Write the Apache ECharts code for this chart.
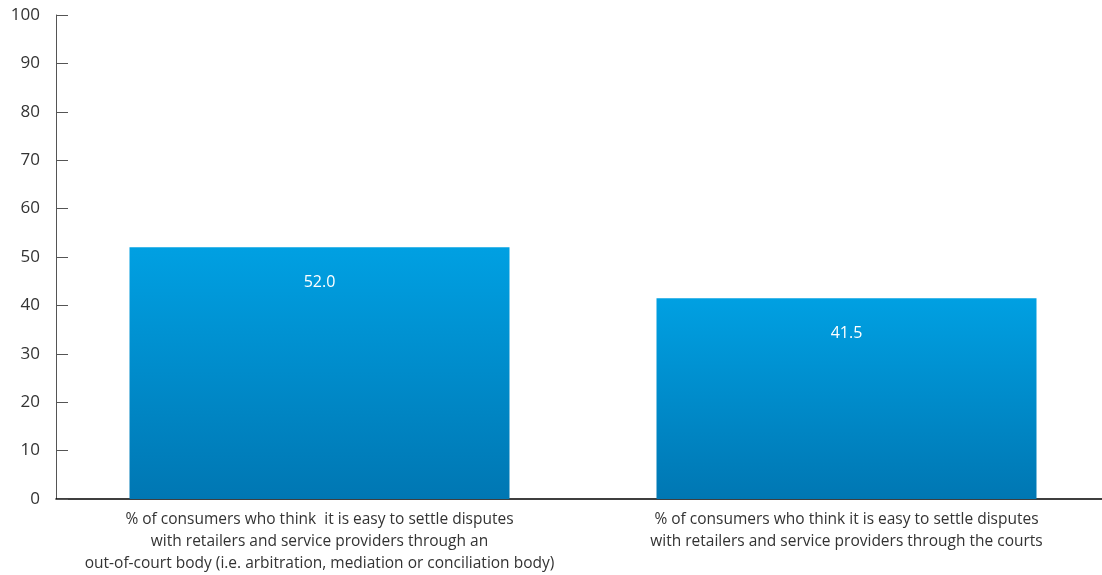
<!DOCTYPE html>
<html>
<head>
<meta charset="utf-8">
<script src="https://cdn.jsdelivr.net/npm/echarts@6/dist/echarts.min.js"></script>
<style>
  html, body { margin: 0; padding: 0; background: #fff; overflow: hidden; }
  #chart { width: 1110px; height: 575px; }
</style>
</head>
<body>
<div id="chart"></div>
<script>
// categories along the x axis
var categories = [
  '% of consumers who think  it is easy to settle disputes\nwith retailers and service providers through an\nout-of-court body (i.e. arbitration, mediation or conciliation body)',
  '% of consumers who think it is easy to settle disputes\nwith retailers and service providers through the courts'
];
// share of consumers, %
var values = [52.0, 41.5];
var yTicks = [0, 100, 10]; // min, max, step

var myChart = echarts.init(document.getElementById('chart'));

var option = {
  animation: false,
  textStyle: { fontFamily: 'Open Sans' },
  // the axis runs a little past the right edge of the window, as in the original
  grid: { left: 56, right: 0, top: 15, bottom: 76 },
  xAxis: {
    type: 'category',
    data: categories,
    axisLine: { lineStyle: { color: '#000', width: 1.5 } },
    axisTick: { inside: true, length: 12, lineStyle: { color: '#000' } },
    axisLabel: {
      color: '#333',
      fontSize: 15.5,
      lineHeight: 22,
      margin: 10,
      interval: 0
    }
  },
  yAxis: {
    type: 'value',
    min: yTicks[0],
    max: yTicks[1],
    interval: yTicks[2],
    splitLine: { show: false },
    axisLine: { show: true, lineStyle: { color: '#555' } },
    axisTick: { show: true, inside: true, length: 12, lineStyle: { color: '#555' } },
    axisLabel: { color: '#333', fontSize: 17, margin: 16 }
  },
  series: [{
    type: 'bar',
    data: values,
    barWidth: 380,
    itemStyle: {
      color: new echarts.graphic.LinearGradient(0, 0, 0, 1, [
        { offset: 0, color: '#00a0e2' },
        { offset: 1, color: '#0077b3' }
      ])
    },
    label: {
      show: true,
      position: 'insideTop',
      distance: 27,
      color: '#fff',
      fontSize: 16,
      formatter: function (p) { return p.value.toFixed(1); }
    }
  }]
};
myChart.setOption(option);
</script>
</body>
</html>
